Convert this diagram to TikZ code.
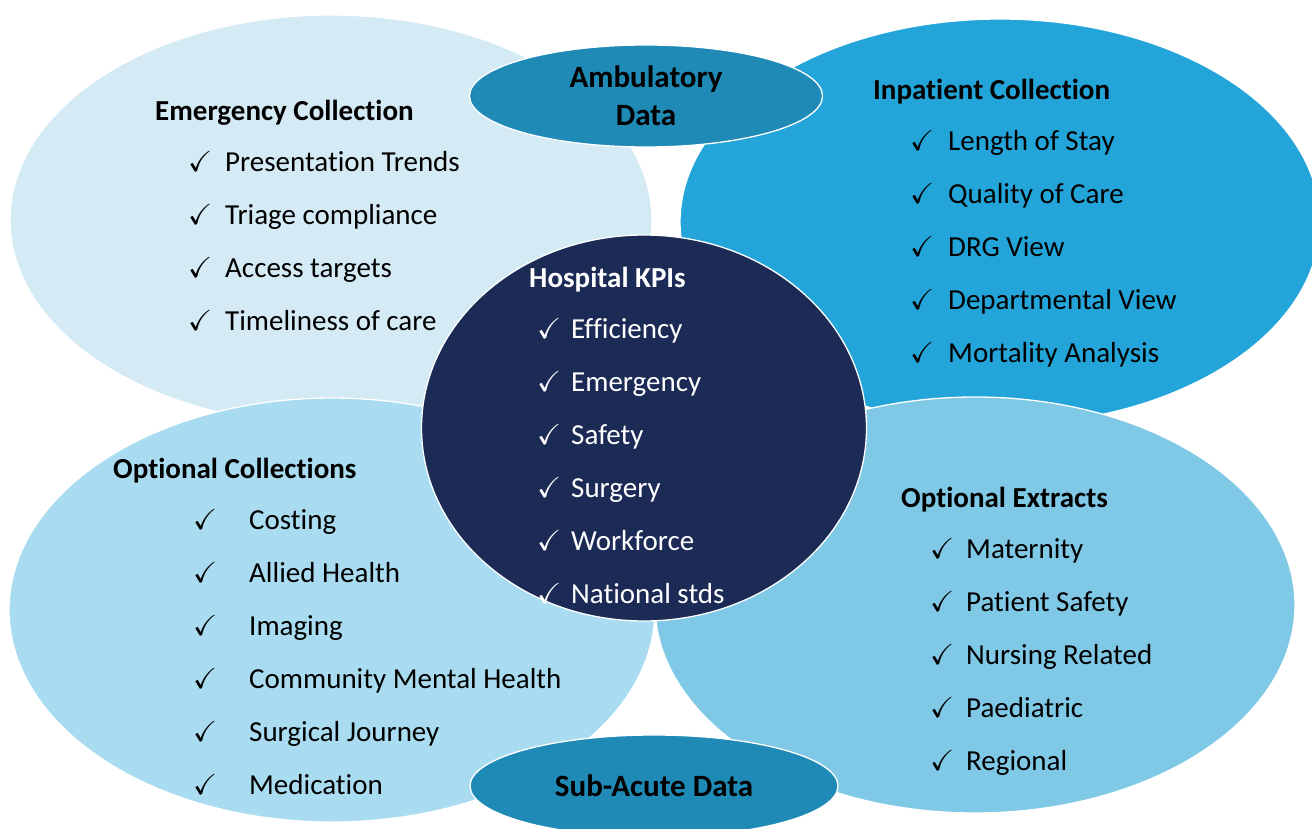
\documentclass[tikz,border=0pt]{standalone}
\usepackage{amssymb}
\usepackage{fontspec}
\setmainfont{Carlito}[Ligatures=NoCommon]
\usepackage{tikz}
\usetikzlibrary{shapes, positioning}
\definecolor{emfill}{HTML}{D4EAF5}
\definecolor{inpfill}{HTML}{24A5DA}
\definecolor{ocfill}{HTML}{A9DCF0}
\definecolor{oxfill}{HTML}{7FC8E6}
\definecolor{kpifill}{HTML}{1C2A56}
\definecolor{datafill}{HTML}{1F8AB6}
\newcommand{\bodyfont}{\fontsize{29}{34}\selectfont}
\newcommand{\chk}[1][37pt]{\makebox[#1][l]{$\checkmark$}\ignorespaces}
\tikzstyle{bubble} = [draw=white, line width=1.3pt, ellipse, inner sep=0pt]
\tikzstyle{datablob} = [bubble, fill=datafill, align=center, font=\fontsize{31}{38}\selectfont\bfseries]
\tikzstyle{item} = [anchor=west, inner sep=0pt, text height=0.7em, text depth=0.22em]
\tikzstyle{head} = [item, font=\bodyfont\bfseries]

\begin{document}
\begin{tikzpicture}[x=1pt, y=-1pt, font=\bodyfont, node distance=53pt]
    \useasboundingbox[fill=white] (0,0) rectangle (1312,829);
    % We start by placing the four collections
    \node [bubble, fill=emfill, minimum width=642pt, minimum height=410pt] (emerg) at (331,220) {};
    \node [bubble, fill=inpfill, minimum width=640pt, minimum height=406pt] (inpat) at (1000,222) {};
    \node [bubble, fill=ocfill, minimum width=646pt, minimum height=424pt] (optcoll) at (332,610) {};
    \node [bubble, fill=oxfill, minimum width=640pt, minimum height=416pt] (optext) at (975,605) {};
    \node [bubble, fill=kpifill, minimum width=445pt, minimum height=386pt] (kpi) at (644,428) {};
    \node [datablob, minimum width=353pt, minimum height=102pt] (amb) at (646,96) {Ambulatory\\Data};
    \node [datablob, minimum width=368pt, minimum height=102pt] (subacute) at (654,786) {Sub-Acute Data};

    % Emergency
    \node [head] (emtitle) at (155,118) {Emergency Collection};
    \node [item, below right=51pt and 33pt of emtitle.west, anchor=west] (em1) {\chk Presentation Trends};
    \node [item, below=of em1.west, anchor=west] (em2) {\chk Triage compliance};
    \node [item, below=of em2.west, anchor=west] (em3) {\chk Access targets};
    \node [item, below=of em3.west, anchor=west] (em4) {\chk Timeliness of care};

    % Inpatient
    \node [head] (inptitle) at (873,97) {Inpatient Collection};
    \node [item, below right=51pt and 37pt of inptitle.west, anchor=west] (inp1) {\chk[38pt] Length of Stay};
    \node [item, below=of inp1.west, anchor=west] (inp2) {\chk[38pt] Quality of Care};
    \node [item, below=of inp2.west, anchor=west] (inp3) {\chk[38pt] DRG View};
    \node [item, below=of inp3.west, anchor=west] (inp4) {\chk[38pt] Departmental View};
    \node [item, below=of inp4.west, anchor=west] (inp5) {\chk[38pt] Mortality Analysis};

    % Hospital KPIs
    \node [head, text=white] (kpititle) at (529,285) {Hospital KPIs};
    \node [item, text=white, below right=51pt and 8pt of kpititle.west, anchor=west] (kpi1) {\chk[34pt] Efficiency};
    \node [item, text=white, below=of kpi1.west, anchor=west] (kpi2) {\chk[34pt] Emergency};
    \node [item, text=white, below=of kpi2.west, anchor=west] (kpi3) {\chk[34pt] Safety};
    \node [item, text=white, below=of kpi3.west, anchor=west] (kpi4) {\chk[34pt] Surgery};
    \node [item, text=white, below=of kpi4.west, anchor=west] (kpi5) {\chk[34pt] Workforce};
    \node [item, text=white, below=of kpi5.west, anchor=west] (kpi6) {\chk[34pt] National stds};

    % Optional collections
    \node [head] (octitle) at (113,476) {Optional Collections};
    \node [item, below right=51pt and 80pt of octitle.west, anchor=west] (oc1) {\chk[56pt] Costing};
    \node [item, below=of oc1.west, anchor=west] (oc2) {\chk[56pt] Allied Health};
    \node [item, below=of oc2.west, anchor=west] (oc3) {\chk[56pt] Imaging};
    \node [item, below=of oc3.west, anchor=west] (oc4) {\chk[56pt] Community Mental Health};
    \node [item, below=of oc4.west, anchor=west] (oc5) {\chk[56pt] Surgical Journey};
    \node [item, below=of oc5.west, anchor=west] (oc6) {\chk[56pt] Medication};

    % Optional extracts
    \node [head] (oxtitle) at (901,505) {Optional Extracts};
    \node [item, below right=51pt and 29pt of oxtitle.west, anchor=west] (ox1) {\chk[36pt] Maternity};
    \node [item, below=of ox1.west, anchor=west] (ox2) {\chk[36pt] Patient Safety};
    \node [item, below=of ox2.west, anchor=west] (ox3) {\chk[36pt] Nursing Related};
    \node [item, below=of ox3.west, anchor=west] (ox4) {\chk[36pt] Paediatric};
    \node [item, below=of ox4.west, anchor=west] (ox5) {\chk[36pt] Regional};
\end{tikzpicture}
\end{document}
